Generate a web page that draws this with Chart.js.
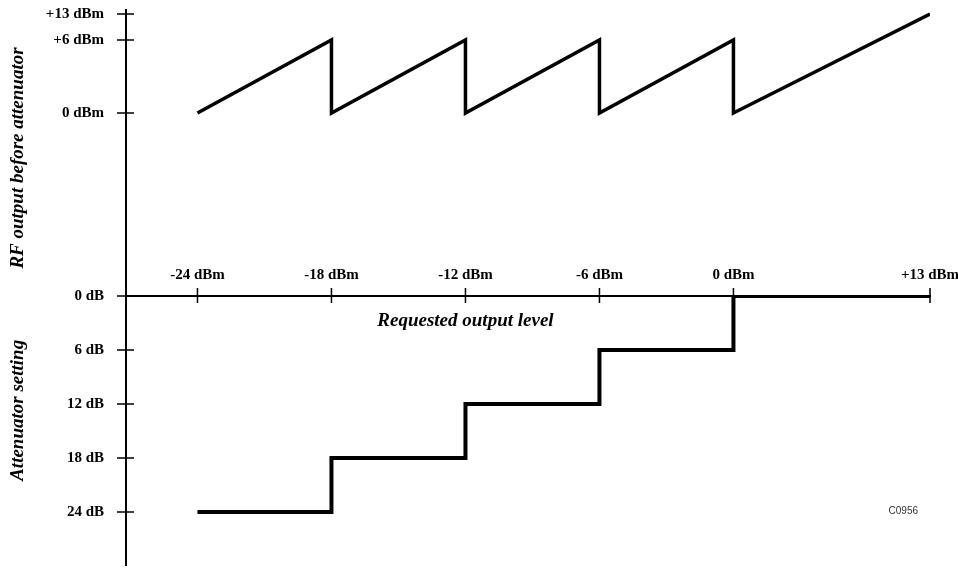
<!DOCTYPE html>
<html>
<head>
<meta charset="utf-8">
<title>RF output and attenuator setting vs requested level</title>
<script src="https://cdn.jsdelivr.net/npm/chart.js@4.4.1/dist/chart.umd.min.js"></script>
<style>
  html, body { margin: 0; padding: 0; background: #fff; }
  canvas { display: block; }
</style>
</head>
<body>
<canvas id="chart" width="958" height="569"></canvas>
<script>
// --- DATA ---
const requestedTicks = [-24, -18, -12, -6, 0, 13];   // dBm, shared x axis
const rfTicks = [0, 6, 13];                           // dBm, upper axis
const attTicks = [0, 6, 12, 18, 24];                  // dB, lower axis

// RF level before the attenuator (sawtooth)
const rfRequested = [-24, -18, -18, -12, -12, -6, -6, 0, 0, 13];
const rfOutput = [0, 6, 0, 6, 0, 6, 0, 6, 0, 13];

// attenuator setting (staircase)
const attRequested = [-24, -18, -18, -12, -12, -6, -6, 0, 0, 13];
const attSetting = [24, 24, 18, 18, 12, 12, 6, 6, 0, 0];

const xTitle = 'Requested output level';
const rfTitle = 'RF output before attenuator';
const attTitle = 'Attenuator setting';
const figureCode = 'C0956';

// the drawing is schematic: the span above 0 dBm (x) and above +6 dBm (RF) is squeezed
const X_SQUEEZE = 0.677;
const RF_SQUEEZE = 0.305;
const warpX = v => (v <= 0 ? v : v * X_SQUEEZE);
const warpRF = v => (v <= 6 ? v : 6 + (v - 6) * RF_SQUEEZE);
const signed = v => (v > 0 ? '+' + v : String(v));

const black = '#000';
const serif = '"Liberation Serif", "Times New Roman", serif';
const tickFont = { family: serif, size: 15, weight: 'bold' };

// ticks in the drawing cross the axis line, so they are drawn here
const schematicMarks = {
    id: 'schematicMarks',
    beforeDatasetsDraw(chart) {
        const { ctx, scales: { x, yRF, yAtt } } = chart;
        const axisY = yAtt.getPixelForValue(0);
        const axisX = yRF.right;
        ctx.save();
        ctx.strokeStyle = black;
        ctx.lineWidth = 1.5;
        ctx.beginPath();
        x.ticks.forEach((t, i) => {
            const px = x.getPixelForTick(i);
            ctx.moveTo(px, axisY - 8);
            ctx.lineTo(px, axisY + 7);
        });
        [yRF, yAtt].forEach(s => s.ticks.forEach((t, i) => {
            const py = s.getPixelForTick(i);
            ctx.moveTo(axisX - 9, py);
            ctx.lineTo(axisX + 8, py);
        }));
        ctx.stroke();
        ctx.restore();
    },
    afterDraw(chart) {
        const { ctx, scales: { x, yRF, yAtt } } = chart;
        const axisY = yAtt.getPixelForValue(0);
        ctx.save();
        ctx.fillStyle = black;
        ctx.textAlign = 'center';
        ctx.textBaseline = 'middle';
        ctx.font = 'italic bold 19px ' + serif;
        ctx.fillText(xTitle, x.getPixelForTick(2), axisY + 25);

        ctx.save();
        ctx.translate(18, (yRF.top + yRF.bottom) / 2 + 5);
        ctx.rotate(-Math.PI / 2);
        ctx.fillText(rfTitle, 0, 0);
        ctx.restore();

        ctx.save();
        ctx.translate(18, yAtt.top + (yAtt.bottom - yAtt.top) * 0.425);
        ctx.rotate(-Math.PI / 2);
        ctx.fillText(attTitle, 0, 0);
        ctx.restore();

        ctx.font = '10px "Liberation Sans", Arial, sans-serif';
        ctx.fillStyle = '#333';
        ctx.textAlign = 'right';
        ctx.fillText(figureCode, chart.chartArea.right - 12, yAtt.getPixelForValue(24) - 1);
        ctx.restore();
    }
};

const ctx = document.getElementById('chart').getContext('2d');

new Chart(ctx, {
    type: 'line',
    data: {
        datasets: [{
            label: rfTitle,
            data: rfRequested.map((r, i) => ({ x: warpX(r), y: warpRF(rfOutput[i]) })),
            yAxisID: 'yRF',
            borderColor: black,
            borderWidth: 3.5,
            borderJoinStyle: 'miter',
            pointRadius: 0,
            tension: 0,
            fill: false
        }, {
            label: attTitle,
            data: attRequested.map((r, i) => ({ x: warpX(r), y: attSetting[i] })),
            yAxisID: 'yAtt',
            borderColor: black,
            borderWidth: 4,
            borderJoinStyle: 'miter',
            pointRadius: 0,
            tension: 0,
            fill: false
        }]
    },
    options: {
        responsive: false,
        animation: false,
        devicePixelRatio: 1,
        layout: { padding: { top: 10, right: 28, bottom: 4, left: 0 } },
        plugins: { legend: { display: false }, tooltip: { enabled: false } },
        scales: {
            x: {
                type: 'linear',
                position: { yAtt: 0 },
                min: -27.2,
                max: warpX(13),
                grid: { drawOnChartArea: false, drawTicks: false },
                border: { color: black, width: 2 },
                ticks: {
                    color: black,
                    font: tickFont,
                    padding: -30,
                    autoSkip: false,
                    maxRotation: 0,
                    callback: (v, i) => signed(requestedTicks[i]) + ' dBm'
                },
                afterBuildTicks: s => { s.ticks = requestedTicks.map(v => ({ value: warpX(v) })); },
                afterFit: s => { s.height = 0; s.paddingLeft = 0; s.paddingRight = 0; }
            },
            yAtt: {
                type: 'linear',
                position: 'left',
                stack: 'left',
                stackWeight: 269,
                reverse: true,
                min: 0,
                max: 29.9,
                grid: { drawOnChartArea: false, drawTicks: false },
                border: { color: black, width: 2 },
                ticks: {
                    color: black,
                    font: tickFont,
                    padding: 22,
                    autoSkip: false,
                    callback: (v, i) => attTicks[i] + ' dB'
                },
                afterBuildTicks: s => { s.ticks = attTicks.map(v => ({ value: v })); },
                afterFit: s => { s.width = 126; s.paddingTop = 0; s.paddingBottom = 0; }
            },
            yRF: {
                type: 'linear',
                position: 'left',
                stack: 'left',
                stackWeight: 286,
                min: -15.04,
                max: 8.46,
                grid: { drawOnChartArea: false, drawTicks: false },
                border: { color: black, width: 2 },
                ticks: {
                    color: black,
                    font: tickFont,
                    padding: 22,
                    autoSkip: false,
                    callback: (v, i) => signed(rfTicks[i]) + ' dBm'
                },
                afterBuildTicks: s => { s.ticks = rfTicks.map(v => ({ value: warpRF(v) })); },
                afterFit: s => { s.width = 126; s.paddingTop = 0; s.paddingBottom = 0; }
            }
        }
    },
    plugins: [schematicMarks]
});
</script>
</body>
</html>
